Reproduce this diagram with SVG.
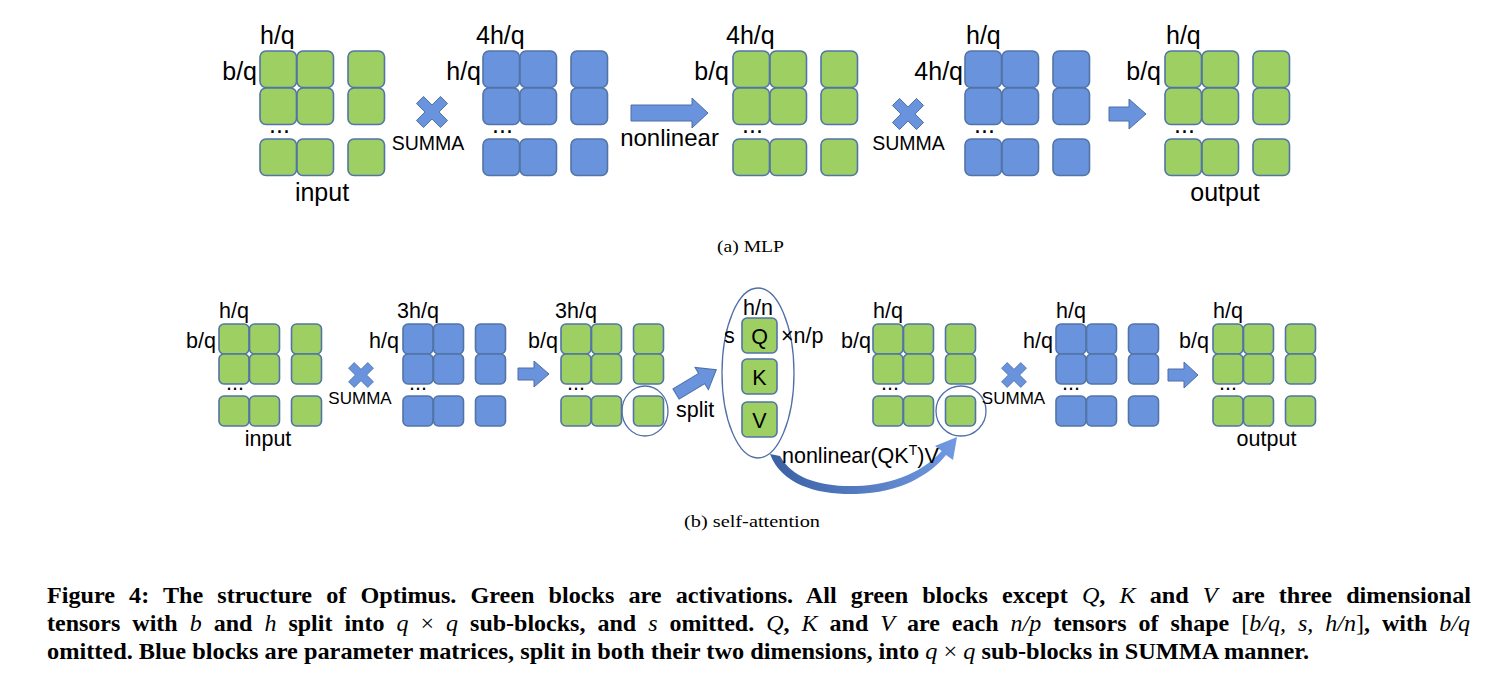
<svg xmlns="http://www.w3.org/2000/svg" xmlns:xlink="http://www.w3.org/1999/xlink" width="1502" height="688" viewBox="0 0 1502 688">
<style>
.gr{fill:#9DCF62;stroke:#5274A6;stroke-width:1.6}
.bl{fill:#6993DC;stroke:#5274A6;stroke-width:1.6}
.lt{font-family:"Liberation Sans",Arial,sans-serif;font-size:25px;fill:#000}
.ls{font-family:"Liberation Sans",Arial,sans-serif;font-size:21.5px;fill:#000}
.sm{font-family:"Liberation Sans",Arial,sans-serif;font-size:19.5px;fill:#000}
.sm2{font-family:"Liberation Sans",Arial,sans-serif;font-size:17px;fill:#000}
.arr{fill:#6993DC;stroke:#4E6FA6;stroke-width:1}
.ring{fill:none;stroke:#4F6FA6;stroke-width:1.3}
.sub{font-family:"Liberation Serif","Times New Roman",serif;font-size:17px;fill:#000}
.cap{font-family:"Liberation Serif","Times New Roman",serif;font-size:24px;font-weight:bold;fill:#000}
.m{font-style:italic;font-weight:normal}
.n{font-weight:normal}
</style>
<defs>
<g id="gridT">
<rect x="0" y="0" width="36.5" height="36.5" rx="6"/>
<rect x="37" y="0" width="36.5" height="36.5" rx="6"/>
<rect x="88" y="0" width="36.5" height="36.5" rx="6"/>
<rect x="0" y="37" width="36.5" height="36.5" rx="6"/>
<rect x="37" y="37" width="36.5" height="36.5" rx="6"/>
<rect x="88" y="37" width="36.5" height="36.5" rx="6"/>
<rect x="0" y="88" width="36.5" height="36.5" rx="6"/>
<rect x="37" y="88" width="36.5" height="36.5" rx="6"/>
<rect x="88" y="88" width="36.5" height="36.5" rx="6"/>
</g>
<g id="gridB">
<rect x="0" y="0" width="30" height="30" rx="5"/>
<rect x="30.5" y="0" width="30" height="30" rx="5"/>
<rect x="72.5" y="0" width="30" height="30" rx="5"/>
<rect x="0" y="30" width="30" height="30" rx="5"/>
<rect x="30.5" y="30" width="30" height="30" rx="5"/>
<rect x="72.5" y="30" width="30" height="30" rx="5"/>
<rect x="0" y="72" width="30" height="30" rx="5"/>
<rect x="30.5" y="72" width="30" height="30" rx="5"/>
<rect x="72.5" y="72" width="30" height="30" rx="5"/>
</g>
<polygon id="mul" points="0,-7.07 8.49,-15.56 15.56,-8.49 7.07,0 15.56,8.49 8.49,15.56 0,7.07 -8.49,15.56 -15.56,8.49 -7.07,0 -15.56,-8.49 -8.49,-15.56"/>
<linearGradient id="cg" x1="770" y1="0" x2="957" y2="0" gradientUnits="userSpaceOnUse">
<stop offset="0" stop-color="#3A5FA3"/>
<stop offset="1" stop-color="#719AE2"/>
</linearGradient>
</defs>

<!-- (a) MLP -->
<g id="mlp-input">
<use href="#gridT" x="260" y="51" class="gr"/>
<text class="lt" x="260" y="44">h/q</text>
<text class="lt" x="257" y="80" text-anchor="end">b/q</text>
<text class="lt" x="269" y="133">...</text>
<text class="lt" x="322" y="201" text-anchor="middle">input</text>
</g>
<g id="mlp-summa1">
<use href="#mul" x="432" y="112" class="arr"/>
<text class="sm" x="428" y="150" text-anchor="middle">SUMMA</text>
</g>
<g id="mlp-w1">
<use href="#gridT" x="483" y="51" class="bl"/>
<text class="lt" x="476" y="44">4h/q</text>
<text class="lt" x="481" y="80" text-anchor="end">h/q</text>
<text class="lt" x="492" y="133">...</text>
</g>
<g id="mlp-hidden">
<use href="#gridT" x="733" y="51" class="gr"/>
<text class="lt" x="726" y="44">4h/q</text>
<text class="lt" x="729" y="80" text-anchor="end">b/q</text>
<text class="lt" x="742" y="133">...</text>
</g>
<g id="mlp-summa2">
<use href="#mul" x="908" y="114" class="arr"/>
<text class="sm" x="908.5" y="150" text-anchor="middle">SUMMA</text>
</g>
<g id="mlp-w2">
<use href="#gridT" x="965" y="51" class="bl"/>
<text class="lt" x="966" y="44">h/q</text>
<text class="lt" x="963" y="80" text-anchor="end">4h/q</text>
<text class="lt" x="974" y="133">...</text>
</g>
<g id="mlp-output">
<use href="#gridT" x="1165" y="51" class="gr"/>
<text class="lt" x="1166" y="44">h/q</text>
<text class="lt" x="1161" y="80" text-anchor="end">b/q</text>
<text class="lt" x="1174" y="133">...</text>
<text class="lt" x="1225" y="201" text-anchor="middle">output</text>
</g>
<text class="sub" x="717" y="252" textLength="67" lengthAdjust="spacingAndGlyphs">(a)  MLP</text>

<!-- (b) self-attention -->
<g id="sa-input">
<use href="#gridB" x="219" y="324" class="gr"/>
<text class="ls" x="219" y="318">h/q</text>
<text class="ls" x="216" y="348" text-anchor="end">b/q</text>
<text class="ls" x="226" y="390">...</text>
<text class="ls" x="268" y="446" text-anchor="middle">input</text>
</g>
<g id="sa-summa1">
<use href="#mul" transform="translate(361,375) scale(0.8)" class="arr"/>
<text class="sm2" x="360" y="404" text-anchor="middle">SUMMA</text>
</g>
<g id="sa-wqkv">
<use href="#gridB" x="403" y="324" class="bl"/>
<text class="ls" x="397" y="318">3h/q</text>
<text class="ls" x="399" y="348" text-anchor="end">h/q</text>
<text class="ls" x="409" y="390">...</text>
</g>
<g id="sa-qkv">
<use href="#gridB" x="561" y="324" class="gr"/>
<text class="ls" x="555" y="318">3h/q</text>
<text class="ls" x="558" y="348" text-anchor="end">b/q</text>
<text class="ls" x="567" y="390">...</text>
<ellipse class="ring" cx="645" cy="411" rx="23" ry="25"/>
</g>
<g id="sa-heads">
<ellipse class="ring" cx="758" cy="373" rx="36" ry="85"/>
<rect class="gr" x="742" y="318" width="35" height="35" rx="5"/>
<rect class="gr" x="742" y="359" width="35" height="35" rx="5"/>
<rect class="gr" x="742" y="402" width="35" height="35" rx="5"/>
<text class="ls" x="759.5" y="343.5" text-anchor="middle">Q</text>
<text class="ls" x="759.5" y="384.5" text-anchor="middle">K</text>
<text class="ls" x="759.5" y="427.5" text-anchor="middle">V</text>
<text class="ls" x="743" y="315">h/n</text>
<text class="ls" x="724" y="343">s</text>
<text class="ls" x="781" y="343">×n/p</text>
</g>
<g id="sa-attn">
<use href="#gridB" x="873" y="324" class="gr"/>
<text class="ls" x="873" y="318">h/q</text>
<text class="ls" x="871" y="348" text-anchor="end">b/q</text>
<text class="ls" x="881" y="390">...</text>
<ellipse class="ring" cx="961" cy="411" rx="25" ry="25"/>
</g>
<g id="sa-summa2">
<use href="#mul" transform="translate(1014,375) scale(0.8)" class="arr"/>
<text class="sm2" x="1013.5" y="404" text-anchor="middle">SUMMA</text>
</g>
<g id="sa-wo">
<use href="#gridB" x="1056" y="324" class="bl"/>
<text class="ls" x="1056" y="318">h/q</text>
<text class="ls" x="1053" y="348" text-anchor="end">h/q</text>
<text class="ls" x="1062" y="390">...</text>
</g>
<g id="sa-output">
<use href="#gridB" x="1213" y="324" class="gr"/>
<text class="ls" x="1213" y="318">h/q</text>
<text class="ls" x="1209" y="348" text-anchor="end">b/q</text>
<text class="ls" x="1219" y="390">...</text>
<text class="ls" x="1266.5" y="446" text-anchor="middle">output</text>
</g>

<g id="connectors">
<polygon class="arr" points="631,105 692,105 692,98 708,113 692,128 692,121 631,121"/>
<text class="ls" x="669.5" y="146" text-anchor="middle" style="font-size:24px">nonlinear</text>
<polygon class="arr" points="1109,107 1129,107 1129,99 1146,114 1129,129 1129,121 1109,121"/>
<polygon class="arr" points="518,368 534,368 534,361 549,374 534,387 534,380 518,380"/>
<polygon class="arr" points="1168,369 1184,369 1184,362 1198,375 1184,388 1184,381 1168,381"/>
<polygon class="arr" transform="translate(676,394) rotate(-31)" points="0,-6 30,-6 30,-13 47,0 30,13 30,6 0,6"/>
<text class="ls" x="676" y="417">split</text>
<path fill="url(#cg)" d="M 770 454 C 782 486, 820 495, 856 494 C 900 493, 930 475, 946 455 L 953 460 L 957 437 L 935 446 L 941.7 451 C 925 470, 895 485, 856 486 C 820 487, 792 478, 780 456 Z"/>
<text class="ls" x="782" y="463">nonlinear(QK<tspan dy="-8" style="font-size:14px">T</tspan><tspan dy="8">)V</tspan></text>
</g>
<text class="sub" x="684" y="527" textLength="136" lengthAdjust="spacingAndGlyphs">(b)  self-attention</text>

<g id="caption">
<text class="cap" x="47" y="603" style="word-spacing:8px" textLength="1424" lengthAdjust="spacingAndGlyphs">Figure 4: The structure of Optimus. Green blocks are activations. All green blocks except <tspan class="m">Q</tspan>, <tspan class="m">K</tspan> and <tspan class="m">V</tspan> are three dimensional</text>
<text class="cap" x="47" y="631" style="word-spacing:6px" textLength="1423" lengthAdjust="spacingAndGlyphs">tensors with <tspan class="m">b</tspan> and <tspan class="m">h</tspan> split into <tspan class="m">q</tspan><tspan class="n"> × </tspan><tspan class="m">q</tspan> sub-blocks, and <tspan class="m">s</tspan> omitted. <tspan class="m">Q</tspan>, <tspan class="m">K</tspan> and <tspan class="m">V</tspan> are each <tspan class="m">n/p</tspan> tensors of shape <tspan class="n">[</tspan><tspan class="m">b/q, s, h/n</tspan><tspan class="n">]</tspan>, with <tspan class="m">b/q</tspan></text>
<text class="cap" x="47" y="659" textLength="1262" lengthAdjust="spacingAndGlyphs">omitted. Blue blocks are parameter matrices, split in both their two dimensions, into <tspan class="m">q</tspan><tspan class="n"> × </tspan><tspan class="m">q</tspan> sub-blocks in SUMMA manner.</text>
</g>
</svg>
